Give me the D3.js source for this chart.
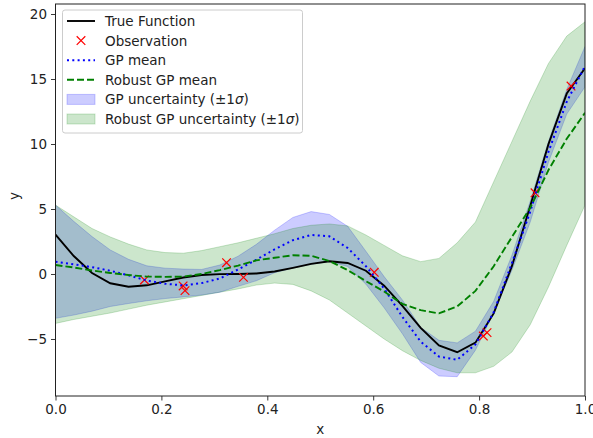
<!DOCTYPE html>
<html>
<head>
<meta charset="utf-8">
<script src="https://cdn.jsdelivr.net/npm/d3@7"></script>
<style>
  body { margin: 0; background: #fff; }
  svg { font-family: "DejaVu Sans", sans-serif; }
</style>
</head>
<body>
<div id="chart"></div>
<script>
// grid of 30 points on [0, 1]
var xGrid = d3.range(30).map(function (i) { return i / 29; });

var trueY = [3.03, 1.38, 0.08, -0.71, -0.98, -0.87, -0.57, -0.27, -0.08, -0.01,
  0.0, 0.04, 0.19, 0.47, 0.78, 0.98, 0.85, 0.25, -0.9, -2.46,
  -4.14, -5.5, -6.02, -5.28, -3.03, 0.62, 5.23, 9.99, 13.88, 15.83];

var gpMean = [0.95, 0.74, 0.53, 0.25, -0.1, -0.5, -0.75, -0.88, -0.7, -0.35,
  0.35, 1.1, 1.9, 2.6, 3.0, 2.9, 2.0, 0.6, -1.12, -3.3,
  -5.2, -6.35, -6.6, -5.42, -2.95, 0.85, 4.8, 9.4, 13.25, 16.0];
var gpUpper = [5.3, 4.05, 2.88, 1.85, 1.13, 0.63, 0.45, 0.38, 0.35, 0.69,
  1.37, 2.28, 3.37, 4.35, 4.8, 4.58, 3.67, 1.75, -0.2, -2.0,
  -4.1, -5.1, -5.3, -4.4, -2.1, 1.45, 5.6, 10.2, 14.2, 17.5];
var gpLower = [-3.41, -3.16, -2.86, -2.5, -2.27, -2.06, -1.89, -1.76, -1.62, -1.4,
  -0.95, -0.52, 0.1, 0.46, 0.75, 0.95, 0.58, -0.78, -2.6, -4.6,
  -6.8, -7.85, -7.9, -5.86, -3.0, 0.3, 4.0, 8.6, 12.3, 14.4];

var robMean = [0.69, 0.5, 0.27, 0.08, -0.08, -0.2, -0.22, -0.2, 0.0, 0.3,
  0.65, 1.05, 1.25, 1.44, 1.4, 1.0, 0.3, -0.55, -1.35, -2.3,
  -2.78, -3.03, -2.5, -1.3, 0.6, 2.85, 5.1, 8.0, 10.4, 12.4];
var robUpper = [5.3, 4.4, 3.5, 2.85, 2.3, 1.85, 1.65, 1.6, 1.8, 2.1,
  2.4, 2.75, 3.1, 3.5, 3.75, 3.85, 3.7, 3.0, 2.2, 1.4,
  0.95, 1.2, 2.4, 4.0, 7.1, 10.2, 13.3, 16.2, 18.3, 19.4];
var robLower = [-3.8, -3.5, -3.25, -3.0, -2.7, -2.4, -2.15, -1.9, -1.65, -1.4,
  -1.15, -0.85, -0.7, -0.8, -1.3, -2.0, -3.0, -4.0, -5.0, -5.9,
  -6.65, -7.25, -7.6, -7.6, -7.1, -6.0, -3.9, -1.0, 2.2, 5.3];

var obsX = [0.168, 0.241, 0.2446, 0.323, 0.355, 0.602, 0.808, 0.815, 0.9056, 0.9736];
var obsY = [-0.46, -0.92, -1.28, 0.87, -0.26, 0.13, -4.77, -4.51, 6.25, 14.46];

var xTicks = [0, 0.2, 0.4, 0.6, 0.8, 1.0];
var yTicks = [-5, 0, 5, 10, 15, 20];

var width = 593, height = 438;
var margin = { top: 4, right: 8, bottom: 42, left: 55.5 };
var fontSize = 13.5;

var svg = d3.select("#chart").append("svg")
  .attr("width", width)
  .attr("height", height);

var x = d3.scaleLinear().domain([0, 1]).range([margin.left, width - margin.right]);
var y = d3.scaleLinear().domain([-9.385, 20.77]).range([height - margin.bottom, margin.top]);

svg.append("clipPath").attr("id", "clip")
  .append("rect")
  .attr("x", x(0)).attr("y", y(20.77))
  .attr("width", x(1) - x(0)).attr("height", y(-9.385) - y(20.77));

var plot = svg.append("g").attr("clip-path", "url(#clip)");

function band(lo, hi) {
  return d3.area()
    .x(function (d, i) { return x(xGrid[i]); })
    .y0(function (d, i) { return y(lo[i]); })
    .y1(function (d, i) { return y(hi[i]); })(xGrid);
}
function line(vals) {
  return d3.line()
    .x(function (d, i) { return x(xGrid[i]); })
    .y(function (d) { return y(d); })(vals);
}

// uncertainty bands
plot.append("path").attr("d", band(gpLower, gpUpper))
  .attr("fill", "rgba(0,0,255,0.2)").attr("stroke", "rgba(0,0,255,0.2)").attr("stroke-width", 1);
plot.append("path").attr("d", band(robLower, robUpper))
  .attr("fill", "rgba(0,128,0,0.2)").attr("stroke", "rgba(0,128,0,0.2)").attr("stroke-width", 1);

// true function
plot.append("path").attr("d", line(trueY))
  .attr("fill", "none").attr("stroke", "#000").attr("stroke-width", 1.9);

// observations
var marker = d3.symbol().type(d3.symbolTimes).size(50);
plot.selectAll(".obs").data(obsX).enter().append("path")
  .attr("class", "obs")
  .attr("d", marker)
  .attr("transform", function (d, i) { return "translate(" + x(d) + "," + y(obsY[i]) + ")"; })
  .attr("fill", "none").attr("stroke", "#ff0000").attr("stroke-width", 1.2);

// GP mean
plot.append("path").attr("d", line(gpMean))
  .attr("fill", "none").attr("stroke", "#0000ff").attr("stroke-width", 2)
  .attr("stroke-dasharray", "2,3.3");

// robust GP mean
plot.append("path").attr("d", line(robMean))
  .attr("fill", "none").attr("stroke", "#008000").attr("stroke-width", 1.9)
  .attr("stroke-dasharray", "7,3");

// axes
var xAxis = svg.append("g")
  .attr("transform", "translate(0," + (height - margin.bottom) + ")")
  .call(d3.axisBottom(x).tickValues(xTicks).tickFormat(d3.format(".1f")).tickSizeOuter(0).tickSize(4.5).tickPadding(4));
var yAxis = svg.append("g")
  .attr("transform", "translate(" + margin.left + ",0)")
  .call(d3.axisLeft(y).tickValues(yTicks).tickFormat(function (d) { return d < 0 ? "\u2212" + Math.abs(d) : d; }).tickSizeOuter(0).tickSize(4.5).tickPadding(4));
[xAxis, yAxis].forEach(function (a) {
  a.select(".domain").remove();
  a.selectAll("text").attr("font-size", fontSize).attr("fill", "#222").attr("font-family", "DejaVu Sans");
  a.selectAll("line").attr("stroke", "#222").attr("stroke-width", 0.9);
});

// frame
svg.append("rect")
  .attr("x", x(0)).attr("y", y(20.77))
  .attr("width", x(1) - x(0)).attr("height", y(-9.385) - y(20.77))
  .attr("fill", "none").attr("stroke", "#222").attr("stroke-width", 1);

svg.append("text").attr("x", (x(0) + x(1)) / 2).attr("y", 434)
  .attr("text-anchor", "middle").attr("font-size", fontSize).attr("fill", "#222").text("x");
svg.append("text").attr("transform", "translate(19," + y(6) + ") rotate(-90)")
  .attr("text-anchor", "middle").attr("font-size", fontSize).attr("fill", "#222").text("y");

// legend
var legendItems = [
  { label: "True Function", kind: "line", color: "#000", dash: null },
  { label: "Observation", kind: "marker", color: "#ff0000" },
  { label: "GP mean", kind: "line", color: "#0000ff", dash: "2,3.3" },
  { label: "Robust GP mean", kind: "line", color: "#008000", dash: "7,3" },
  { label: "GP uncertainty (\u00b11", kind: "patch", fill: "rgba(0,0,255,0.2)", sigma: true },
  { label: "Robust GP uncertainty (\u00b11", kind: "patch", fill: "rgba(0,128,0,0.2)", sigma: true }
];

var legend = svg.append("g").attr("transform", "translate(62.5,10)");
legend.append("rect")
  .attr("width", 240).attr("height", 123).attr("rx", 2.5)
  .attr("fill", "rgba(255,255,255,0.8)").attr("stroke", "#ccc").attr("stroke-width", 1);

var row = legend.selectAll(".item").data(legendItems).enter().append("g")
  .attr("transform", function (d, i) { return "translate(0," + (11 + i * 19.6) + ")"; });

row.each(function (d) {
  var g = d3.select(this);
  if (d.kind === "line") {
    g.append("line").attr("x1", 4.5).attr("x2", 32.5).attr("y1", 0).attr("y2", 0)
      .attr("stroke", d.color).attr("stroke-width", d.dash ? 2 : 1.9)
      .attr("stroke-dasharray", d.dash);
  } else if (d.kind === "marker") {
    g.append("path").attr("d", marker).attr("transform", "translate(18.5,0)")
      .attr("fill", "none").attr("stroke", d.color).attr("stroke-width", 1.2);
  } else {
    g.append("rect").attr("x", 4.5).attr("y", -5).attr("width", 28).attr("height", 10)
      .attr("fill", d.fill).attr("stroke", d.fill);
  }
  var t = g.append("text").attr("x", 42.5).attr("y", 5)
    .attr("font-size", fontSize).attr("fill", "#222");
  t.append("tspan").text(d.label);
  if (d.sigma) {
    t.append("tspan").attr("font-style", "italic").text("\u03c3");
    t.append("tspan").text(")");
  }
});
</script>
</body>
</html>
